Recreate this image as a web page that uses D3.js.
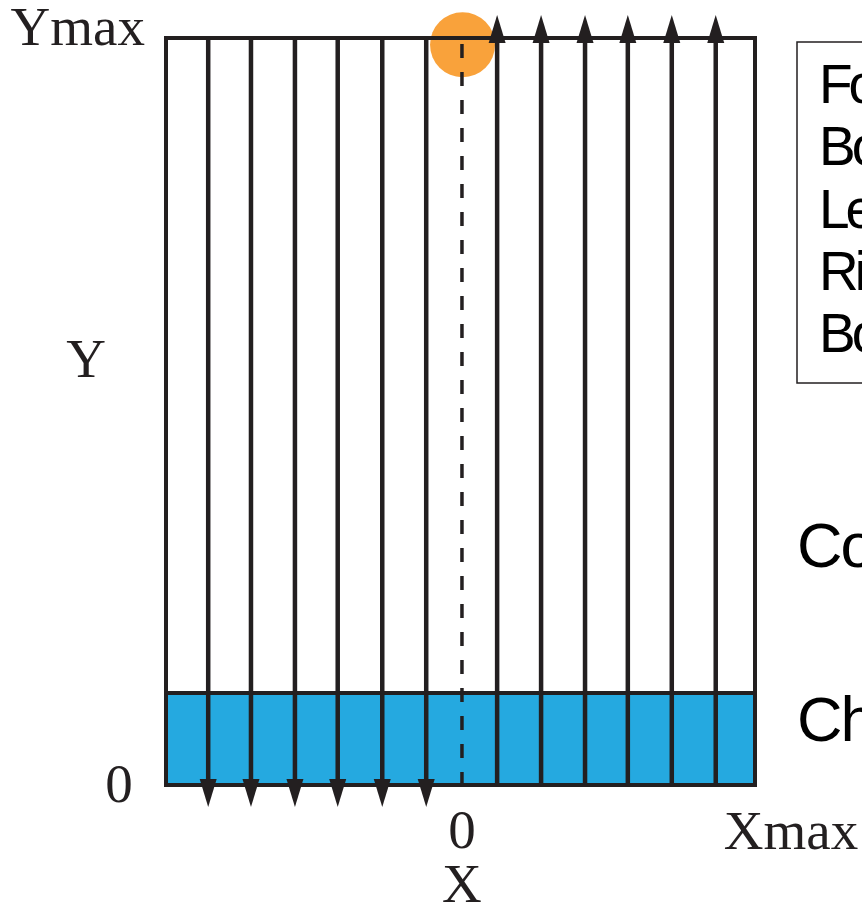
<!DOCTYPE html>
<html>
<head>
<meta charset="utf-8">
<script src="https://cdn.jsdelivr.net/npm/d3@7"></script>
<style>
  html, body { margin: 0; padding: 0; background: #fff; overflow: hidden; }
  svg { display: block; }
</style>
</head>
<body>
<script>
// ---- data ----
const xLabels = ["0", "Xmax"];
const xValues = [0, 50];
const yLabels = ["0", "Ymax"];
const yValues = [0, 100];
const axisTitles = ["X", "Y"];
const downLines = [-43.3, -36.0, -28.5, -21.2, -13.6, -6.1];
const upLines = [6.0, 13.5, 21.0, 28.3, 35.8, 43.3];
const centerLineX = [0];
const bandTop = [12.3];
const sourcePoint = [{ x: 0.1, y: 99.1 }];
const legendLabels = ["Fo", "Bo", "Le", "Ri", "Bo"];
const sideLabels = ["Co", "Ch"];

// ---- layout ----
const W = 862, H = 909;
const dark = "#231f20";
const blue = "#25a9e0";
const orange = "#f9a23b";
const serif = "'Liberation Serif', 'Times New Roman', serif";
const sans = "'Liberation Sans', Arial, sans-serif";

const x = d3.scaleLinear().domain([-50.5, 50]).range([166, 755]);
const y = d3.scaleLinear().domain([0, 100]).range([785, 38]);

const svg = d3.select("body").append("svg").attr("width", W).attr("height", H);

// blue band
svg.selectAll("rect.band").data(bandTop).enter().append("rect")
  .attr("class", "band")
  .attr("x", x(-50.5)).attr("y", d => y(d))
  .attr("width", x(50) - x(-50.5)).attr("height", d => y(0) - y(d))
  .attr("fill", blue);

// source circle
svg.selectAll("circle.src").data(sourcePoint).enter().append("circle")
  .attr("cx", d => x(d.x)).attr("cy", d => y(d.y)).attr("r", 32.5)
  .attr("fill", orange);

// band top line
svg.selectAll("line.bandline").data(bandTop).enter().append("line")
  .attr("x1", x(-50.5)).attr("x2", x(50))
  .attr("y1", d => y(d)).attr("y2", d => y(d))
  .attr("stroke", dark).attr("stroke-width", 4);

// outer frame
svg.append("rect")
  .attr("x", x(-50.5)).attr("y", y(100))
  .attr("width", x(50) - x(-50.5)).attr("height", y(0) - y(100))
  .attr("fill", "none").attr("stroke", dark).attr("stroke-width", 4);

// dashed centre line
svg.selectAll("line.center").data(centerLineX).enter().append("line")
  .attr("x1", d => x(d)).attr("x2", d => x(d))
  .attr("y1", y(100)).attr("y2", y(0))
  .attr("stroke", dark).attr("stroke-width", 3.5)
  .attr("stroke-dasharray", "14,14").attr("stroke-dashoffset", -6);

// down lines with arrows at bottom
const gDown = svg.selectAll("g.down").data(downLines).enter().append("g");
gDown.append("line")
  .attr("x1", d => x(d)).attr("x2", d => x(d))
  .attr("y1", y(100)).attr("y2", y(0) + 2)
  .attr("stroke", dark).attr("stroke-width", 4.5);
gDown.append("path")
  .attr("d", d => {
    const cx = x(d), b = y(0) - 6;
    return `M${cx - 8.5},${b} L${cx + 8.5},${b} L${cx},${b + 28} Z`;
  })
  .attr("fill", dark);

// up lines with arrows at top
const gUp = svg.selectAll("g.up").data(upLines).enter().append("g");
gUp.append("line")
  .attr("x1", d => x(d)).attr("x2", d => x(d))
  .attr("y1", y(100) - 2).attr("y2", y(0))
  .attr("stroke", dark).attr("stroke-width", 4.5);
gUp.append("path")
  .attr("d", d => {
    const cx = x(d), b = y(100) + 5;
    return `M${cx - 8.5},${b} L${cx + 8.5},${b} L${cx},${b - 28} Z`;
  })
  .attr("fill", dark);

// axis tick labels
svg.append("text").text(xLabels[0])
  .attr("x", x(xValues[0])).attr("y", 848)
  .attr("text-anchor", "middle").attr("font-family", serif).attr("font-size", 55).attr("fill", dark);
svg.append("text").text(xLabels[1])
  .attr("x", x(xValues[1]) + 36).attr("y", 849)
  .attr("text-anchor", "middle").attr("font-family", serif).attr("font-size", 55).attr("fill", dark);
svg.append("text").text(yLabels[0])
  .attr("x", 119).attr("y", y(yValues[0]) + 17)
  .attr("text-anchor", "middle").attr("font-family", serif).attr("font-size", 55).attr("fill", dark);
svg.append("text").text(yLabels[1])
  .attr("x", 145).attr("y", y(yValues[1]) + 7)
  .attr("text-anchor", "end").attr("font-family", serif).attr("font-size", 55).attr("fill", dark);

// axis titles
svg.append("text").text(axisTitles[0])
  .attr("x", x(0)).attr("y", 902)
  .attr("text-anchor", "middle").attr("font-family", serif).attr("font-size", 55).attr("fill", dark);
svg.append("text").text(axisTitles[1])
  .attr("x", 86).attr("y", 377)
  .attr("text-anchor", "middle").attr("font-family", serif).attr("font-size", 55).attr("fill", dark);

// legend box
svg.append("rect")
  .attr("x", 797).attr("y", 42).attr("width", 120).attr("height", 341)
  .attr("fill", "none").attr("stroke", dark).attr("stroke-width", 1.5);
svg.selectAll("text.leg").data(legendLabels).enter().append("text")
  .attr("class", "leg")
  .text(d => d)
  .attr("x", 819).attr("y", (d, i) => 103 + i * 62.3)
  .attr("font-family", sans).attr("font-size", 55).attr("letter-spacing", -4).attr("fill", "#000");

// side labels
const sideY = [567, 741];
svg.selectAll("text.side").data(sideLabels).enter().append("text")
  .attr("class", "side")
  .text(d => d)
  .attr("x", 797).attr("y", (d, i) => sideY[i])
  .attr("font-family", sans).attr("font-size", 63).attr("letter-spacing", -2).attr("fill", "#000");
</script>
</body>
</html>
